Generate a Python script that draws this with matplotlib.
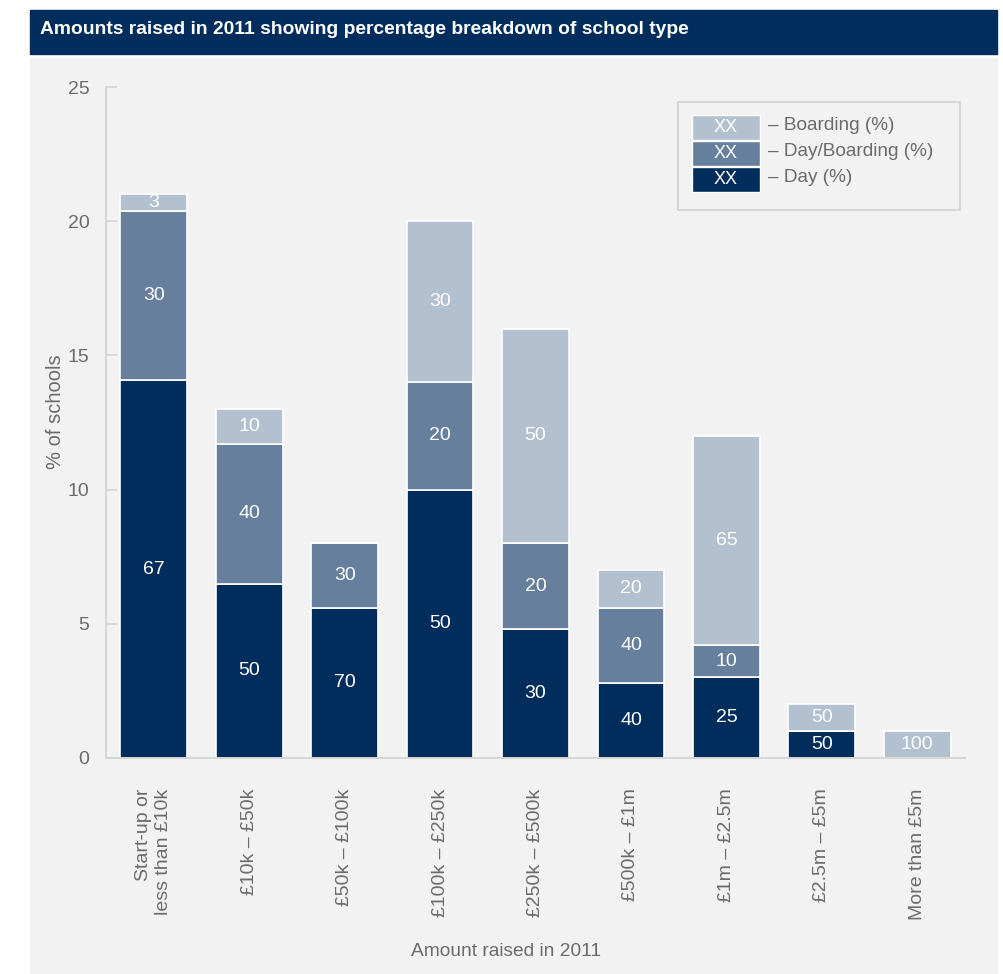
import matplotlib
matplotlib.use("Agg")
import matplotlib.pyplot as plt
from matplotlib.patches import Rectangle
import numpy as np

plt.rcParams['font.family'] = ['Liberation Sans', 'DejaVu Sans']

NAVY = "#002d5c"
SLATE = "#667f9c"
PALE = "#b2c0d0"
PANEL = "#f2f2f2"
GRID = "#d3d3d3"
TEXT = "#6b6b6b"

W, H = 1004, 974

categories = ["Start-up or\nless than £10k", "£10k – £50k", "£50k – £100k",
              "£100k – £250k", "£250k – £500k", "£500k – £1m",
              "£1m – £2.5m", "£2.5m – £5m", "More than £5m"]
totals = [21, 13, 8, 20, 16, 7, 12, 2, 1]          # % of schools per band
day_pct = [67, 50, 70, 50, 30, 40, 25, 50, 0]
dayboard_pct = [30, 40, 30, 20, 20, 40, 10, 0, 0]
boarding_pct = [3, 10, 0, 30, 50, 20, 65, 50, 100]


def px(x, y):
    """pixel position (from top-left) -> figure fraction"""
    return x / W, 1 - y / H


fig = plt.figure(figsize=(W / 100, H / 100), dpi=100)
fig.patch.set_facecolor("white")

# grey panel and title strip
x0, y0 = px(30, 974)
fig.patches.append(Rectangle((x0, y0), (997 - 30) / W, (974 - 58) / H,
                             transform=fig.transFigure, color=PANEL, zorder=-10))
x0, y0 = px(30, 54)
fig.patches.append(Rectangle((x0, y0), (997 - 30) / W, (54 - 10) / H,
                             transform=fig.transFigure, color=NAVY, zorder=-10))
tx, ty = px(40, 29)
fig.text(tx, ty, "Amounts raised in 2011 showing percentage breakdown of school type",
         color="white", fontsize=13.9, fontweight="bold", va="center", ha="left")

ax = fig.add_axes([106 / W, 1 - 758 / H, (965 - 106) / W, (758 - 87) / H])
ax.set_facecolor("none")

x = np.arange(len(categories))
totals_a = np.array(totals, dtype=float)
day = totals_a * np.array(day_pct) / 100
dayboard = totals_a * np.array(dayboard_pct) / 100
boarding = totals_a * np.array(boarding_pct) / 100

bottom = np.zeros(len(categories))
for vals, pcts, col in [(day, day_pct, NAVY), (dayboard, dayboard_pct, SLATE),
                        (boarding, boarding_pct, PALE)]:
    ax.bar(x, vals, 0.7, bottom=bottom, color=col, edgecolor="white",
           linewidth=1.2, zorder=2)
    for xi, v, b, p in zip(x, vals, bottom, pcts):
        if p > 0:
            ax.text(xi, b + v / 2, str(p), color="white", fontsize=14,
                    ha="center", va="center", zorder=3)
    bottom = bottom + vals

ax.set_xlim(-0.5, 8.5)
ax.set_ylim(0, 25)
ax.set_yticks([0, 5, 10, 15, 20, 25])
ax.set_xticks(x)
ax.set_xticklabels(categories, rotation=90, ha="center", va="top",
                   multialignment="right")

for s in ["top", "right"]:
    ax.spines[s].set_visible(False)
for s in ["left", "bottom"]:
    ax.spines[s].set_color(GRID)
    ax.spines[s].set_linewidth(1.3)

ax.tick_params(axis="y", direction="in", length=8, width=1.2, color=GRID,
               labelcolor=TEXT, labelsize=14, pad=12)
ax.tick_params(axis="x", length=0, labelcolor=TEXT, labelsize=14, pad=22)

ax.set_ylabel("% of schools", color=TEXT, fontsize=14.5)
ax.yaxis.set_label_coords((65 - 106) / 859, (758 - 412) / 671)
ax.set_xlabel("Amount raised in 2011", color=TEXT, fontsize=13.8)
ax.xaxis.set_label_coords((506 - 106) / 859, (758 - 943) / 671)

# legend box with swatches
def axpt(xp, yp):
    return (xp - 106) / 859, (758 - yp) / 671

lx, ly = axpt(678, 210)
ax.add_patch(Rectangle((lx, ly), (960 - 678) / 859, (210 - 102) / 671,
                       transform=ax.transAxes, facecolor=PANEL,
                       edgecolor=GRID, linewidth=1.3, zorder=4))
legend_rows = [("Boarding (%)", PALE), ("Day/Boarding (%)", SLATE), ("Day (%)", NAVY)]
for i, (name, col) in enumerate(legend_rows):
    top = 115 + i * 26
    sx, sy = axpt(692, top + 25)
    ax.add_patch(Rectangle((sx, sy), 68 / 859, 25 / 671, transform=ax.transAxes,
                           facecolor=col, edgecolor="white", linewidth=1, zorder=5))
    cx, cy = axpt(726, top + 13)
    ax.text(cx, cy, "XX", transform=ax.transAxes, color="white", fontsize=13,
            ha="center", va="center", zorder=6)
    lx2, _ = axpt(768, 0)
    ax.text(lx2, cy + 0.004, "– " + name, transform=ax.transAxes, color=TEXT,
            fontsize=13.7, ha="left", va="center", zorder=6)

fig.savefig("out.png", dpi=100, facecolor=fig.get_facecolor())
